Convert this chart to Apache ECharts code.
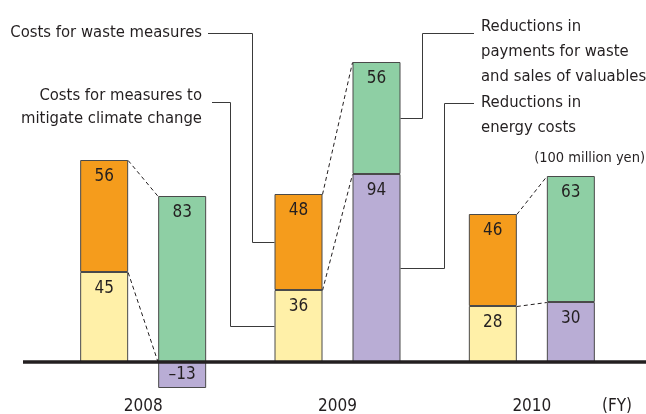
<!DOCTYPE html>
<html lang="en">
<head>
    <meta charset="UTF-8">
    <title>Costs and reductions</title>
    <script src="https://cdn.jsdelivr.net/npm/echarts@6/dist/echarts.min.js"></script>
</head>
<body style="margin:0;">
    <div id="main" style="width:646px;height:414px;"></div>
<script type="text/javascript">
    // data (100 million yen)
    var years = ['2008', '2009', '2010'];
    var climateCosts = [45, 36, 28];
    var wasteCosts = [56, 48, 46];
    var energyReductions = [-13, 94, 30];
    var wasteReductions = [83, 56, 63];

    var FONT = '"Liberation Sans Narrow", "DejaVu Sans Condensed", Roboto, sans-serif';
    var INK = '#231f20';
    var BAR_W = 48, GAP = 30;

    var myChart = echarts.init(document.getElementById('main'));

    function barSeries(name, stack, data, color) {
        return {
            name: name,
            type: 'bar',
            stack: stack,
            data: data,
            barWidth: BAR_W,
            barGap: (GAP / BAR_W * 100) + '%',
            itemStyle: { color: color, borderColor: '#4a4a4a', borderWidth: 1 },
            label: {
                show: true, position: 'insideTop', distance: 8,
                color: INK, fontFamily: FONT, fontSize: 17,
                formatter: function (p) { return String(p.value).replace('-', '\u2013'); }
            }
        };
    }

    // negative bar gets its label in the middle
    var energyData = energyReductions.map(function (v) {
        return v < 0 ? { value: v, label: { position: 'inside' } } : v;
    });

    // connectors: cost low/top vs benefit low/top
    var linkData = years.map(function (y, i) {
        var low = Math.max(energyReductions[i], 0);
        return [i, climateCosts[i], climateCosts[i] + wasteCosts[i], low, low + wasteReductions[i]];
    });

    function renderLinks(params, api) {
        var i = api.value(0);
        var c = api.coord([i, 0]);
        var costR = c[0] - GAP / 2, benL = c[0] + GAP / 2;
        var costL = costR - BAR_W, benR = benL + BAR_W;
        function y(v) { return Math.round(api.coord([i, v])[1]) + 0.5; }
        var dash = { stroke: INK, lineWidth: 1, lineDash: [4, 3], fill: null };
        var lead = { stroke: '#3a3a3a', lineWidth: 1, fill: null };
        var children = [
            { type: 'line', shape: { x1: costR, y1: y(api.value(1)), x2: benL, y2: y(api.value(3)) }, style: dash },
            { type: 'line', shape: { x1: costR, y1: y(api.value(2)), x2: benL, y2: y(api.value(4)) }, style: dash }
        ];
        if (params.dataIndex === 0) {
            children.push({ type: 'line', shape: { x1: 23, y1: c[1], x2: 646, y2: c[1] },
                style: { stroke: INK, lineWidth: 3.5 } });
        }
        if (params.dataIndex === 1) {
            var v1 = api.value(1), v2 = api.value(2), v3 = api.value(3), v4 = api.value(4);
            children.push(
                { type: 'polyline', shape: { points: [[208, 33.5], [252.5, 33.5], [252.5, y((v1 + v2) / 2)], [costL, y((v1 + v2) / 2)]] }, style: lead },
                { type: 'polyline', shape: { points: [[212, 102.5], [230.5, 102.5], [230.5, y(v1 / 2)], [costL, y(v1 / 2)]] }, style: lead },
                { type: 'polyline', shape: { points: [[474, 33.5], [422.5, 33.5], [422.5, y((v3 + v4) / 2)], [benR, y((v3 + v4) / 2)]] }, style: lead },
                { type: 'polyline', shape: { points: [[474, 103.5], [444.5, 103.5], [444.5, y(v3 / 2)], [benR, y(v3 / 2)]] }, style: lead }
            );
        }
        return { type: 'group', children: children };
    }

    var txt = { fontFamily: FONT, fontSize: 16.5, fill: INK };

    var option = {
        animation: false,
        grid: { left: 46, right: 17, top: 62, bottom: 12, outerBoundsMode: 'none', containLabel: false },
        xAxis: {
            type: 'category',
            data: years,
            axisLine: { show: false, onZero: false },
            axisTick: { show: false },
            axisLabel: { margin: -4, color: INK, fontFamily: FONT, fontSize: 17 }
        },
        yAxis: { type: 'value', min: -20, max: 150, show: false },
        graphic: [
            { type: 'text', x: 202, y: 33, style: Object.assign({ text: 'Costs for waste measures', textAlign: 'right', textVerticalAlign: 'middle' }, txt) },
            { type: 'text', x: 202, y: 84, style: Object.assign({ text: 'Costs for measures to\nmitigate climate change', textAlign: 'right', lineHeight: 23 }, txt) },
            { type: 'text', x: 481, y: 14, style: Object.assign({ text: 'Reductions in\npayments for waste\nand sales of valuables', textAlign: 'left', lineHeight: 25 }, txt) },
            { type: 'text', x: 481, y: 90, style: Object.assign({ text: 'Reductions in\nenergy costs', textAlign: 'left', lineHeight: 25 }, txt) },
            { type: 'text', x: 645, y: 158, style: { text: '(100 million yen)', textAlign: 'right', textVerticalAlign: 'middle', fontFamily: FONT, fontSize: 14.5, fill: INK } },
            { type: 'text', x: 617, y: 407, style: { text: '(FY)', textAlign: 'center', textVerticalAlign: 'middle', fontFamily: FONT, fontSize: 17, fill: INK } }
        ],
        series: [
            barSeries('Costs for measures to mitigate climate change', 'cost', climateCosts, '#fff0a8'),
            barSeries('Costs for waste measures', 'cost', wasteCosts, '#f59c1c'),
            barSeries('Reductions in energy costs', 'benefit', energyData, '#b9add5'),
            barSeries('Reductions in payments for waste and sales of valuables', 'benefit', wasteReductions, '#8ecfa4'),
            {
                type: 'custom',
                renderItem: renderLinks,
                data: linkData,
                encode: { x: 0, y: [1, 2, 3, 4] },
                clip: false,
                z: 5,
                silent: true
            }
        ]
    };

    myChart.setOption(option);
</script>
</body>
</html>
